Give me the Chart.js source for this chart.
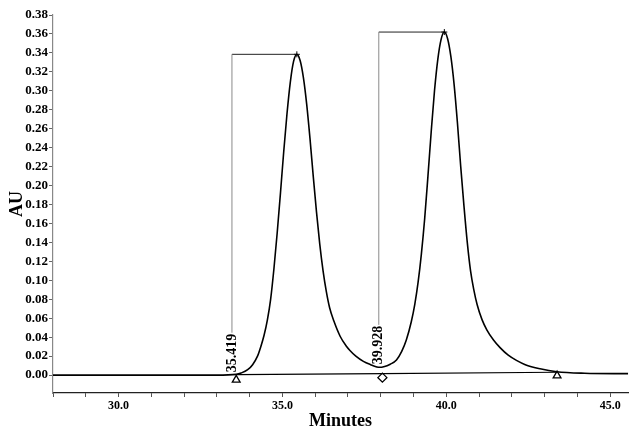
<!DOCTYPE html>
<html>
<head>
<meta charset="utf-8">
<script src="https://cdn.jsdelivr.net/npm/chart.js@4/dist/chart.umd.min.js"></script>
<style>
  html, body { margin: 0; padding: 0; background: #fff; }
  #wrap { width: 634px; height: 429px; }
</style>
</head>
<body>
<div id="wrap"><canvas id="c" width="634" height="429"></canvas></div>
<script>
// ---- data ----
const timeMin = [28.0, 30.0, 32.0, 33.0,
  33.59, 33.74, 33.94, 34.09, 34.24, 34.34, 34.44, 34.54, 34.64, 34.74, 34.84, 34.94, 35.04, 35.14, 35.24, 35.34, 35.44,
  35.54, 35.64, 35.74, 35.84, 35.94, 36.04, 36.14, 36.24, 36.34, 36.44, 36.57, 36.76, 36.94, 37.06, 37.24, 37.47, 37.69, 37.88, 37.97,
  38.09, 38.29, 38.48, 38.64, 38.78, 38.93, 39.04, 39.14, 39.24, 39.34, 39.44, 39.54, 39.64, 39.74, 39.84, 39.94,
  40.04, 40.14, 40.24, 40.34, 40.44, 40.54, 40.64, 40.74, 40.84, 40.94, 41.09, 41.24, 41.44, 41.64, 41.89, 42.14, 42.41,
  42.86, 43.37, 44.22, 45.55];
const signalAU = [0.000, 0.000, 0.000, 0.000,
  0.0008, 0.0022, 0.0057, 0.011, 0.0200, 0.030, 0.042, 0.058, 0.080, 0.112, 0.150, 0.192, 0.236, 0.276, 0.309, 0.331, 0.3385,
  0.332, 0.314, 0.286, 0.250, 0.210, 0.172, 0.138, 0.110, 0.088, 0.071, 0.057, 0.041, 0.031, 0.026, 0.020, 0.0145, 0.011, 0.0086, 0.0082,
  0.0088, 0.0115, 0.016, 0.025, 0.037, 0.056, 0.075, 0.098, 0.128, 0.165, 0.210, 0.257, 0.300, 0.333, 0.354, 0.362,
  0.355, 0.336, 0.306, 0.266, 0.220, 0.178, 0.140, 0.110, 0.090, 0.0745, 0.0585, 0.0475, 0.037, 0.029, 0.021, 0.0155, 0.011,
  0.0067, 0.0036, 0.002, 0.0015];

// integration baseline (drop points)
const baselineTime = [33.59, 38.05, 43.38];
const baselineAU   = [0.0005, 0.0015, 0.003];

// markers below the baseline
const markerTime  = [33.59, 38.05, 43.38];
const markerAU    = [-0.005, -0.0027, -0.0006];
const markerStyle = ['triangle', 'rectRot', 'triangle'];

// peak annotations
const peakLabels    = ['35.419', '39.928'];
const labelLineTime = [33.46, 37.94];
const labelTopAU    = [0.0447, 0.053];
const peakApexTime  = [35.44, 39.94];
const peakApexAU    = [0.3385, 0.362];

// axis ranges / ticks
const xMin = 28.0, xMax = 45.55, xStep = 1, xLabelEvery = 5;
const yMin = -0.0189, yMax = 0.38, yStep = 0.02;

// ---- build datasets ----
const serif = "'Liberation Serif', 'DejaVu Serif', serif";
const datasets = [];
datasets.push({
  label: 'signal',
  data: timeMin.map((t, i) => ({x: t, y: signalAU[i]})),
  showLine: true, borderColor: '#000', borderWidth: 1.6, pointRadius: 0,
  cubicInterpolationMode: 'monotone'
});
datasets.push({
  label: 'baseline',
  data: baselineTime.map((t, i) => ({x: t, y: baselineAU[i]})),
  showLine: true, borderColor: '#000', borderWidth: 1.2, pointRadius: 0, tension: 0
});
peakLabels.forEach((lab, i) => {
  datasets.push({
    label: 'vline' + i,
    data: [{x: labelLineTime[i], y: labelTopAU[i]}, {x: labelLineTime[i], y: peakApexAU[i]}],
    showLine: true, borderColor: '#8a8a8a', borderWidth: 1, pointRadius: 0, tension: 0
  });
  datasets.push({
    label: 'hline' + i,
    data: [{x: labelLineTime[i], y: peakApexAU[i]}, {x: peakApexTime[i], y: peakApexAU[i]}],
    showLine: true, borderColor: '#222', borderWidth: 1, pointRadius: 0, tension: 0
  });
  datasets.push({
    label: 'apex' + i,
    data: [{x: peakApexTime[i], y: peakApexAU[i]}],
    showLine: false, pointStyle: 'cross', pointRadius: 3, borderColor: '#000', borderWidth: 1
  });
});
datasets.push({
  label: 'markers',
  data: markerTime.map((t, i) => ({x: t, y: markerAU[i]})),
  showLine: false, pointStyle: markerStyle, pointRadius: 4.5,
  backgroundColor: '#fff', borderColor: '#000', borderWidth: 1.3
});

// peak retention-time labels drawn through the scales
const peakLabelPlugin = {
  id: 'peakLabels',
  afterDatasetsDraw(chart) {
    const {ctx, scales: {x, y}} = chart;
    ctx.save();
    ctx.font = "bold 14px " + serif;
    ctx.fillStyle = '#000';
    ctx.textAlign = 'left';
    ctx.textBaseline = 'middle';
    peakLabels.forEach((lab, i) => {
      const px = x.getPixelForValue(labelLineTime[i]);
      const py = y.getPixelForValue(labelTopAU[i]);
      ctx.save();
      ctx.translate(px, py);
      ctx.rotate(-Math.PI / 2);
      const w = ctx.measureText(lab).width;
      ctx.fillText(lab, -w - 1, 0);
      ctx.restore();
    });
    ctx.restore();
  }
};

new Chart(document.getElementById('c'), {
  type: 'scatter',
  data: {datasets},
  plugins: [peakLabelPlugin],
  options: {
    responsive: false,
    animation: false,
    devicePixelRatio: 1,
    layout: {padding: {top: 15, left: 0, right: 0, bottom: 0}},
    plugins: {legend: {display: false}, tooltip: {enabled: false}},
    scales: {
      x: {
        type: 'linear', min: xMin, max: xMax,
        afterFit(s) { s.height = 36; },
        afterBuildTicks(s) { s.ticks = s.ticks.filter(t => t.value >= xMin - 1e-9 && t.value <= xMax + 1e-9); },
        ticks: {
          stepSize: xStep, includeBounds: false, autoSkip: false, maxRotation: 0, padding: 2,
          color: '#000', font: {family: serif, size: 12, weight: 'bold'},
          callback: v => (Math.abs(v % xLabelEvery) < 1e-9 ? Number(v).toFixed(1) : '')
        },
        grid: {drawOnChartArea: false, drawTicks: true, tickLength: 4, color: '#555', tickWidth: 1},
        border: {display: true, color: '#222', width: 1.2},
        title: {display: true, text: 'Minutes', color: '#000',
          font: {family: serif, size: 18, weight: 'bold', lineHeight: 0.8}, padding: {top: 0, bottom: 0}}
      },
      y: {
        type: 'linear', min: yMin, max: yMax,
        afterFit(s) { s.width = 53; },
        afterBuildTicks(s) { s.ticks = s.ticks.filter(t => t.value >= -1e-9 && t.value <= yMax + 1e-9); },
        ticks: {
          stepSize: yStep, includeBounds: false, autoSkip: false, padding: 1,
          color: '#000', font: {family: serif, size: 13, weight: 'bold'},
          callback: v => Number(v).toFixed(2)
        },
        grid: {drawOnChartArea: false, drawTicks: true, tickLength: 4, color: '#666', tickWidth: 1},
        border: {display: true, color: '#888', width: 1.2},
        title: {display: true, text: 'AU', color: '#000',
          font: {family: serif, size: 18, weight: 'bold', lineHeight: 1}, padding: {top: 8, bottom: 0}}
      }
    }
  }
});
</script>
</body>
</html>
